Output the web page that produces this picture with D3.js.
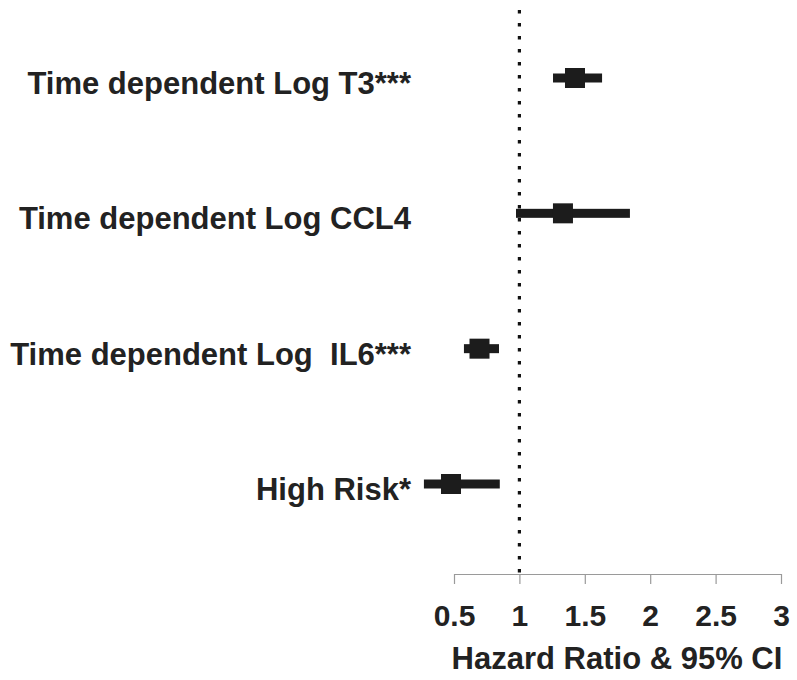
<!DOCTYPE html>
<html lang="en">
<head>
    <meta charset="UTF-8">
    <title>Hazard Ratio</title>
    <style>
        body{margin:0;background:#fff;}
        svg{display:block;font-family:"Liberation Sans",Arial,sans-serif;font-weight:bold;}
        .axis path,.axis line{
            fill:none;
            stroke:#9a9a9a;
            stroke-width:1.2;
        }
        .axis text{
            fill:#222;
            font-size:30px;
            font-weight:bold;
            font-family:"Liberation Sans",Arial,sans-serif;
        }
        .label{
            fill:#222;
            font-size:31px;
            text-anchor:end;
        }
    </style>
    <script src="https://cdn.jsdelivr.net/npm/d3@7"></script>
</head>
<body>
    <script>
        var width = 797;
        var height = 680;

        // data
        var categories = ["Time dependent Log T3***", "Time dependent Log CCL4", "Time dependent Log  IL6***", "High Risk*"];
        var hr    = [1.425, 1.333, 0.695, 0.477];
        var lower = [1.257, 0.974, 0.576, 0.270];
        var upper = [1.632, 1.845, 0.844, 0.850];
        var xTicks = [0.5, 1, 1.5, 2, 2.5, 3];

        var dataset = categories.map(function(c, i){
            return {name: c, hr: hr[i], lo: lower[i], hi: upper[i]};
        });

        var svg = d3.select("body")
                .append("svg")
                .attr("width", width)
                .attr("height", height);

        var xScale = d3.scaleLinear()
                .domain([0.5, 3])
                .range([454, 781]);

        var yScale = d3.scalePoint()
                .domain(categories)
                .range([78, 484]);

        var axisY = 574;

        // x axis
        var xAxis = d3.axisBottom(xScale)
                .tickValues(xTicks)
                .tickSize(10)
                .tickSizeOuter(0)
                .tickPadding(20)
                .tickFormat(function(d){ return String(d); });

        var gx = svg.append("g")
                .attr("class", "axis")
                .attr("transform", "translate(0," + axisY + ")")
                .call(xAxis);
        gx.selectAll("text").attr("dy", "0.72em");

        // reference line at HR = 1
        svg.append("line")
                .attr("x1", xScale(1))
                .attr("x2", xScale(1))
                .attr("y1", 10)
                .attr("y2", axisY)
                .attr("stroke", "#111")
                .attr("stroke-width", 3.2)
                .attr("stroke-dasharray", "3.5,9.5");

        // confidence intervals
        svg.selectAll(".ci")
                .data(dataset)
                .enter()
                .append("rect")
                .attr("class", "ci")
                .attr("x", function(d){ return xScale(d.lo); })
                .attr("width", function(d){ return xScale(d.hi) - xScale(d.lo); })
                .attr("y", function(d){ return yScale(d.name) - 4.5; })
                .attr("height", 9)
                .attr("fill", "#1c1c1c");

        // point estimates
        svg.selectAll(".pt")
                .data(dataset)
                .enter()
                .append("rect")
                .attr("class", "pt")
                .attr("x", function(d){ return xScale(d.hr) - 10; })
                .attr("y", function(d){ return yScale(d.name) - 10; })
                .attr("width", 20)
                .attr("height", 20)
                .attr("fill", "#1c1c1c");

        // row labels
        svg.selectAll(".label")
                .data(dataset)
                .enter()
                .append("text")
                .attr("class", "label")
                .attr("x", 411)
                .attr("y", function(d){ return yScale(d.name) + 16; })
                .style("white-space", "pre")
                .text(function(d){ return d.name; });

        // axis title
        svg.append("text")
                .attr("x", 617)
                .attr("y", 669)
                .attr("text-anchor", "middle")
                .attr("fill", "#222")
                .style("font-size", "31px")
                .text("Hazard Ratio & 95% CI");
    </script>
</body>
</html>
